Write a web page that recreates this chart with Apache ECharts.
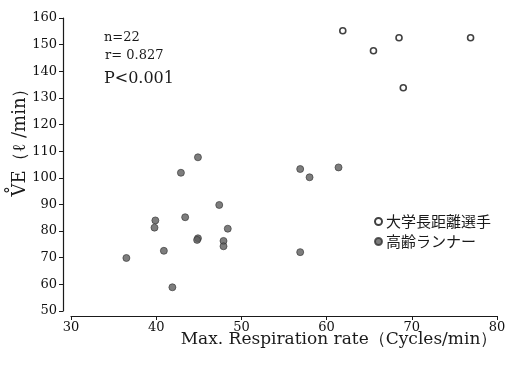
<!DOCTYPE html>
<html>
<head>
<meta charset="utf-8">
<script src="https://cdn.jsdelivr.net/npm/echarts@6/dist/echarts.min.js"></script>
<style>html,body{margin:0;padding:0;background:#fff}#c{width:513px;height:366px}</style>
</head>
<body>
<div id="c"></div>
<script>
var xTicks = [30, 40, 50, 60, 70, 80];
var yTicks = [50, 60, 70, 80, 90, 100, 110, 120, 130, 140, 150, 160];
var seriesNames = ['大学長距離選手', '高齢ランナー'];
var collegeRunners = [
  [61.9, 155.2], [65.5, 147.7], [68.5, 152.6], [76.9, 152.6], [69.0, 133.8]
];
var elderlyRunners = [
  [44.9, 107.7], [42.9, 101.9], [47.4, 89.8], [39.9, 84.0], [43.4, 85.2],
  [39.8, 81.3], [48.4, 80.9], [44.9, 77.3], [44.8, 76.7], [47.9, 76.3],
  [47.9, 74.3], [40.9, 72.6], [36.5, 69.9], [41.9, 58.9], [56.9, 103.3],
  [58.0, 100.2], [61.4, 103.9], [56.9, 72.1]
];
var statsText = ['n=22', 'r= 0.827', 'P<0.001'];
var xName = 'Max. Respiration rate（Cycles/min）';
var yName = 'V\u030AE（ℓ /min）';

var serif = '"DejaVu Serif", "Liberation Serif", serif';
var chart = echarts.init(document.getElementById('c'));
chart.setOption({
  animation: false,
  grid: { left: 71, right: 16, top: 18, bottom: 55 },
  xAxis: {
    type: 'value', min: xTicks[0], max: xTicks[xTicks.length - 1], interval: 10,
    offset: 5,
    splitLine: { show: false },
    axisLine: { lineStyle: { color: '#1a1a1a', width: 1.2 } },
    axisTick: { length: 4, lineStyle: { color: '#1a1a1a' } },
    axisLabel: { color: '#111', fontSize: 13, fontFamily: serif, margin: 5 }
  },
  yAxis: {
    type: 'value', min: yTicks[0], max: yTicks[yTicks.length - 1], interval: 10,
    offset: 8,
    splitLine: { show: false },
    axisLine: { show: true, lineStyle: { color: '#1a1a1a', width: 1.2 } },
    axisTick: { show: true, length: 4, lineStyle: { color: '#1a1a1a' } },
    axisLabel: { color: '#111', fontSize: 13, fontFamily: serif, margin: 6 }
  },
  legend: {
    orient: 'vertical', left: 369, top: 209, itemWidth: 7, itemHeight: 7, itemGap: 5,
    textStyle: { fontSize: 15, color: '#1a1a1a', fontFamily: '"Noto Sans CJK JP", sans-serif', padding: [0, 0, 0, -1] },
    data: seriesNames
  },
  series: [
    {
      name: seriesNames[0], type: 'scatter', data: collegeRunners, symbol: 'circle', symbolSize: 6,
      itemStyle: { color: '#fff', borderColor: '#111', borderWidth: 1.6 }
    },
    {
      name: seriesNames[1], type: 'scatter', data: elderlyRunners, symbol: 'circle', symbolSize: 7,
      itemStyle: { color: '#5c5c5c', borderColor: '#333', borderWidth: 0.8 }
    }
  ],
  graphic: [
    { type: 'text', left: 104, top: 31, style: { text: statsText[0], font: '13px ' + serif, fill: '#1a1a1a' } },
    { type: 'text', left: 105, top: 49, style: { text: statsText[1], font: '13px ' + serif, fill: '#1a1a1a' } },
    { type: 'text', left: 104, top: 71, style: { text: statsText[2], font: '16px ' + serif, fill: '#1a1a1a' } },
    { type: 'text', x: 20, y: 138, rotation: Math.PI / 2,
      style: { text: yName, font: '18px ' + serif, fill: '#1a1a1a', align: 'center', verticalAlign: 'middle' } },
    { type: 'text', x: 339, y: 340,
      style: { text: xName, font: '17px ' + serif, fill: '#1a1a1a', align: 'center', verticalAlign: 'middle' } }
  ]
});
</script>
</body>
</html>
